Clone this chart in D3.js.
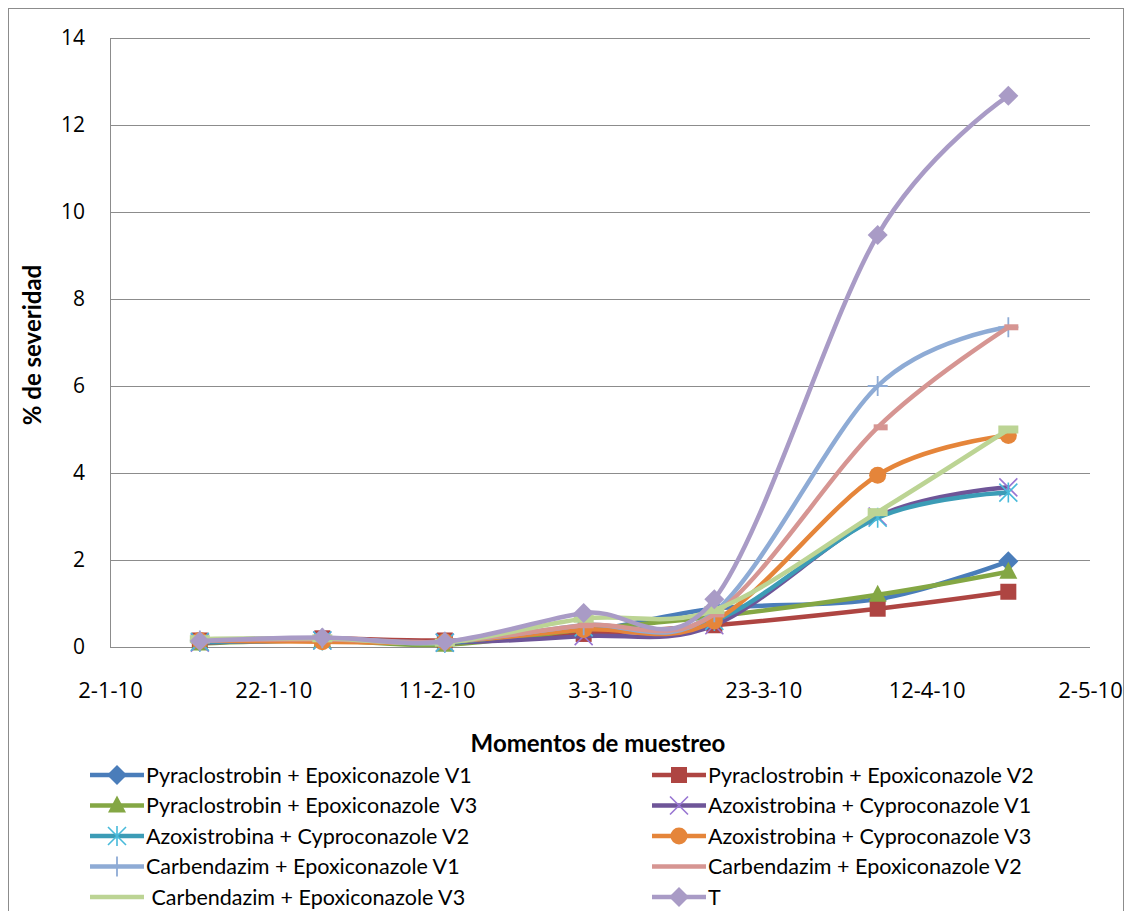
<!DOCTYPE html>
<html lang="es">
<head>
    <meta charset="UTF-8">
    <title>% de severidad</title>
    <script src="https://cdn.jsdelivr.net/npm/d3@7"></script>
    <style>
        body {
            margin: 0;
            background: #fff;
            font-family: 'Lato', 'Open Sans', sans-serif;
        }
        svg text { fill: #000; }
    </style>
</head>
<body>
    <svg id="chart" width="1129" height="911"></svg>

    <script>
        // sampling dates (d-m-yy) and severity values per treatment
        const sampleDates = ["13-1-10", "28-1-10", "12-2-10", "1-3-10", "17-3-10", "6-4-10", "22-4-10"];
        const seriesNames = [
            "Pyraclostrobin + Epoxiconazole V1",
            "Pyraclostrobin + Epoxiconazole V2",
            "Pyraclostrobin + Epoxiconazole  V3",
            "Azoxistrobina + Cyproconazole V1",
            "Azoxistrobina + Cyproconazole V2",
            "Azoxistrobina + Cyproconazole V3",
            "Carbendazim + Epoxiconazole V1",
            "Carbendazim + Epoxiconazole V2",
            " Carbendazim + Epoxiconazole V3",
            "T"
        ];
        const pyrV1 = [0.12, 0.18, 0.10, 0.35, 0.88, 1.10, 1.97];
        const pyrV2 = [0.15, 0.20, 0.15, 0.30, 0.50, 0.88, 1.27];
        const pyrV3 = [0.08, 0.15, 0.05, 0.40, 0.70, 1.20, 1.73];
        const azoV1 = [0.10, 0.15, 0.10, 0.25, 0.50, 3.00, 3.67];
        const azoV2 = [0.12, 0.15, 0.10, 0.45, 0.60, 2.97, 3.55];
        const azoV3 = [0.15, 0.12, 0.12, 0.40, 0.60, 3.95, 4.86];
        const carV1 = [0.15, 0.20, 0.12, 0.50, 0.80, 6.00, 7.35];
        const carV2 = [0.15, 0.18, 0.12, 0.50, 0.75, 5.05, 7.35];
        const carV3 = [0.18, 0.20, 0.10, 0.65, 0.85, 3.10, 5.00];
        const testigo = [0.14, 0.22, 0.12, 0.78, 1.10, 9.47, 12.67];
        const yTicks = [0, 2, 4, 6, 8, 10, 12, 14];

        const allValues = [pyrV1, pyrV2, pyrV3, azoV1, azoV2, azoV3, carV1, carV2, carV3, testigo];
        const colors = ["#4A7DBA", "#AE4542", "#84A744", "#6E5598", "#3C9CB6", "#E5853A",
                        "#8EABD5", "#D69592", "#BCD494", "#A99BC6"];
        const markers = ["diamond", "square", "triangle", "x", "star", "circle", "plus", "dash", "bar", "diamond"];

        const parseDate = d3.utcParse("%d-%m-%y");
        const fmt = d3.utcFormat("%-d-%-m-%y");

        const svg = d3.select("#chart");
        const margin = { left: 110, right: 1090, top: 38, bottom: 647 };

        // outer frame
        svg.append("rect")
            .attr("x", 8.5).attr("y", 8.5)
            .attr("width", 1115).attr("height", 920)
            .attr("fill", "none").attr("stroke", "#8c8c8c");

        const start = parseDate("2-1-10");
        const xTicks = d3.range(7).map(i => d3.utcDay.offset(start, 20 * i));
        const x = d3.scaleUtc()
            .domain([xTicks[0], xTicks[6]])
            .range([margin.left, margin.right]);
        const y = d3.scaleLinear().domain([0, 14]).range([margin.bottom, margin.top]);

        // gridlines
        svg.append("g")
            .selectAll("line")
            .data(yTicks)
            .join("line")
            .attr("x1", margin.left).attr("x2", margin.right)
            .attr("y1", d => Math.round(y(d)) + 0.5).attr("y2", d => Math.round(y(d)) + 0.5)
            .attr("stroke", "#8c8c8c").attr("stroke-width", 1);

        svg.append("line")
            .attr("x1", margin.left + 0.5).attr("x2", margin.left + 0.5)
            .attr("y1", margin.top).attr("y2", margin.bottom)
            .attr("stroke", "#8c8c8c");

        // y axis
        const yAxis = svg.append("g")
            .attr("transform", `translate(${margin.left},0)`)
            .call(d3.axisLeft(y).tickValues(yTicks).tickSize(0).tickPadding(25));
        yAxis.select(".domain").remove();
        yAxis.selectAll("text").style("font-size", "21px").style("font-family", "'Open Sans', sans-serif");

        // x axis
        const xAxis = svg.append("g")
            .attr("transform", `translate(0,${margin.bottom})`)
            .call(d3.axisBottom(x).tickValues(xTicks).tickFormat(fmt).tickSize(0).tickPadding(35));
        xAxis.select(".domain").remove();
        xAxis.selectAll("text").style("font-size", "22px").style("font-family", "'Open Sans', sans-serif");

        svg.append("text")
            .attr("x", 598).attr("y", 752)
            .attr("text-anchor", "middle")
            .style("font-size", "24px").style("font-weight", "bold")
            .text("Momentos de muestreo");

        svg.append("text")
            .attr("transform", "translate(41,345) rotate(-90)")
            .attr("text-anchor", "middle")
            .style("font-size", "24px").style("font-weight", "bold")
            .text("% de severidad");

        function drawMarker(g, type, color) {
            if (type === "diamond") {
                g.append("path").attr("d", "M0,-10L10,0L0,10L-10,0Z").attr("fill", color);
            } else if (type === "square") {
                g.append("rect").attr("x", -8).attr("y", -8).attr("width", 16).attr("height", 16).attr("fill", color);
            } else if (type === "triangle") {
                g.append("path").attr("d", "M0,-10L9,7L-9,7Z").attr("fill", color);
            } else if (type === "circle") {
                g.append("circle").attr("r", 8.5).attr("fill", color);
            } else if (type === "x") {
                g.append("path").attr("d", "M-9,-9L9,9M-9,9L9,-9")
                    .attr("stroke", d3.color(color).brighter(0.9)).attr("stroke-width", 1.6);
            } else if (type === "star") {
                g.append("path").attr("d", "M-9,-9L9,9M-9,9L9,-9M0,-10L0,10")
                    .attr("stroke", d3.color(color).brighter(0.5)).attr("stroke-width", 1.6);
            } else if (type === "plus") {
                g.append("path").attr("d", "M-10,0L10,0M0,-10L0,10")
                    .attr("stroke", color).attr("stroke-width", 1.8);
            } else if (type === "dash") {
                g.append("rect").attr("x", -4).attr("y", -3).attr("width", 14).attr("height", 6).attr("fill", color);
            } else if (type === "bar") {
                g.append("rect").attr("x", -10).attr("y", -4).attr("width", 20).attr("height", 8).attr("fill", color);
            }
        }

        const line = d3.line()
            .x((d, i) => x(parseDate(sampleDates[i])))
            .y(d => y(d))
            .curve(d3.curveCatmullRom.alpha(0));

        allValues.forEach((vals, s) => {
            const g = svg.append("g");
            g.append("path")
                .attr("d", line(vals))
                .attr("fill", "none")
                .attr("stroke", colors[s])
                .attr("stroke-width", 4.5)
                .attr("stroke-linejoin", "round");
            vals.forEach((v, i) => {
                const m = g.append("g")
                    .attr("transform", `translate(${x(parseDate(sampleDates[i]))},${y(v)})`);
                drawMarker(m, markers[s], colors[s]);
            });
        });

        // legend, two columns
        const legend = svg.append("g");
        seriesNames.forEach((name, s) => {
            const col = s % 2;
            const row = Math.floor(s / 2);
            const lx = col === 0 ? 90 : 652;
            const ly = 775 + row * 30.5;
            const item = legend.append("g").attr("transform", `translate(${lx},${ly})`);
            item.append("line")
                .attr("x1", 0).attr("x2", 54)
                .attr("stroke", colors[s]).attr("stroke-width", 4.5);
            if (markers[s] !== "bar" && markers[s] !== "dash") {
                const m = item.append("g").attr("transform", "translate(27,0)");
                drawMarker(m, markers[s], colors[s]);
            }
            item.append("text")
                .attr("x", 56)
                .attr("y", 7.5)
                .style("font-size", "21.5px")
                .style("white-space", "pre")
                .text(name);
        });
    </script>
</body>
</html>
